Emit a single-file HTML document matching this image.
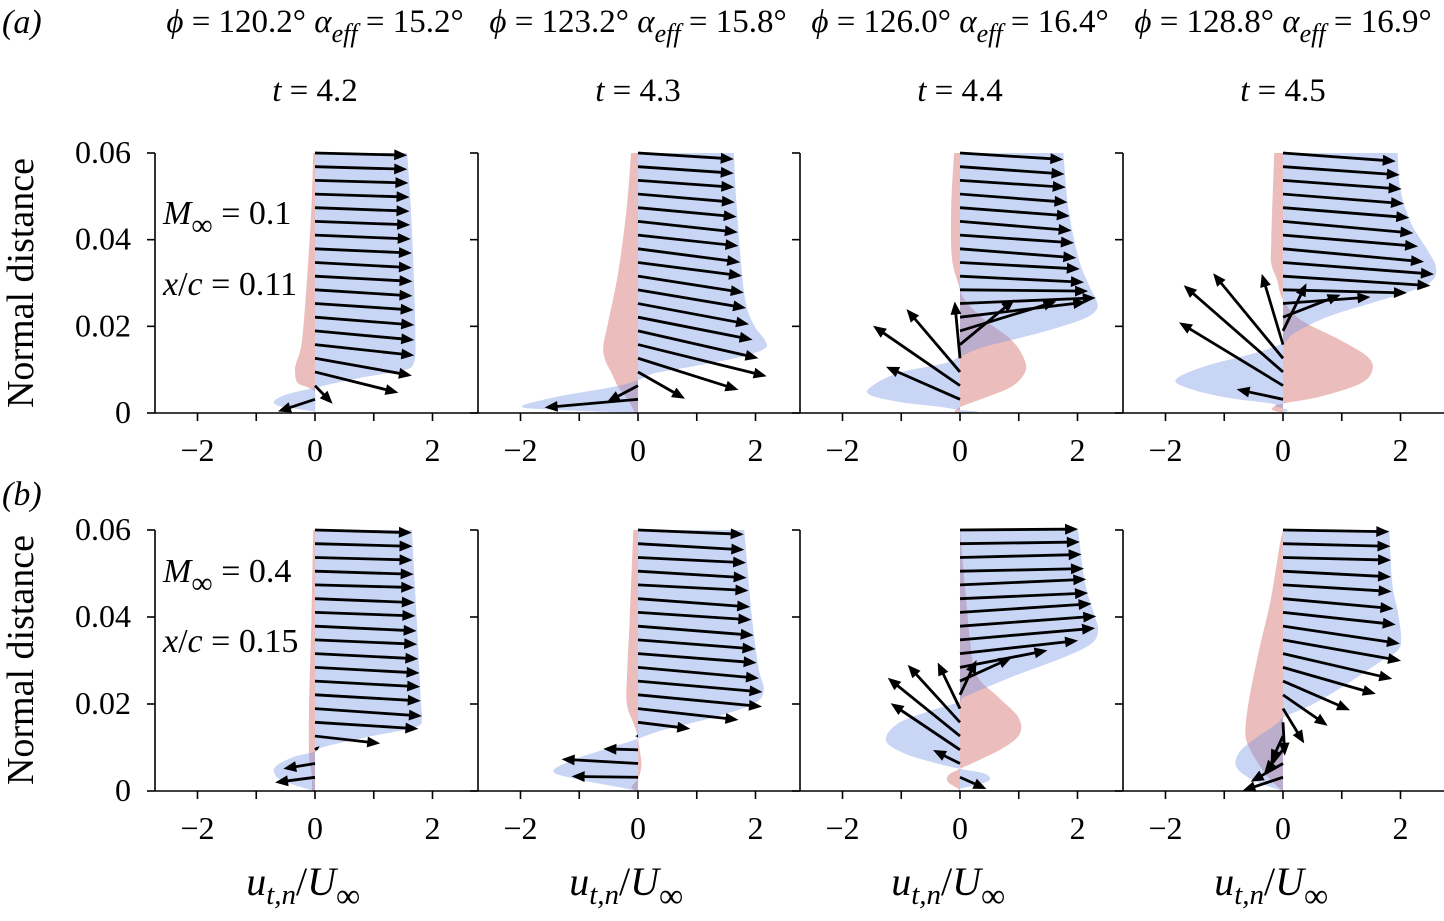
<!DOCTYPE html>
<html><head><meta charset="utf-8"><style>
html,body{margin:0;padding:0;background:#fff;}
svg{display:block;font-family:"Liberation Serif",serif;}
</style></head><body>
<svg id="fig" width="1444" height="921" viewBox="0 0 1444 921" xmlns="http://www.w3.org/2000/svg">
<g id="fills"></g>
<g id="arrows"></g>
<g id="axes"></g>
<g id="texts" font-size="28" fill="#000">
  <text x="2" y="33" font-style="italic" font-size="34">(a)</text>
  <text x="2" y="505" font-style="italic" font-size="34">(b)</text>
  <text x="163" y="224" font-size="34"><tspan font-style="italic">M</tspan><tspan font-size="30" dy="11">∞</tspan><tspan dy="-11"> = 0.1</tspan></text>
  <text x="163" y="295" font-size="34"><tspan font-style="italic">x</tspan>/<tspan font-style="italic">c</tspan> = 0.11</text>
  <text x="163" y="582" font-size="34"><tspan font-style="italic">M</tspan><tspan font-size="30" dy="11">∞</tspan><tspan dy="-11"> = 0.4</tspan></text>
  <text x="163" y="652" font-size="34"><tspan font-style="italic">x</tspan>/<tspan font-style="italic">c</tspan> = 0.15</text>
  <text transform="translate(33,283) rotate(-90)" text-anchor="middle" font-size="38">Normal distance</text>
  <text transform="translate(33,660) rotate(-90)" text-anchor="middle" font-size="38">Normal distance</text>
</g>
</svg>
<script>
const phiLabels = ["120.2", "123.2", "126.0", "128.8"];
const alphaLabels = ["15.2", "15.8", "16.4", "16.9"];
const timeLabels = ["4.2", "4.3", "4.4", "4.5"];
const xTickVals = [-2, -1, 0, 1, 2];
const xTickLabels = ["−2", "", "0", "", "2"];
const yTickVals = [0, 0.02, 0.04, 0.06];
const yTickLabels = ["0", "0.02", "0.04", "0.06"];

// arrow tip horizontal component (u_t / U_inf) per panel, top arrow first
const arrowU = [
 [1.57,1.57,1.59,1.61,1.61,1.62,1.63,1.65,1.65,1.66,1.66,1.68,1.69,1.69,1.69,1.65,1.42,0.30,-0.63],
 [1.63,1.63,1.64,1.65,1.68,1.70,1.71,1.74,1.77,1.80,1.84,1.89,1.95,2.05,2.19,1.71,0.80,-0.53,-1.59],
 [1.76,1.78,1.80,1.83,1.87,1.90,1.94,1.98,2.04,2.11,2.18,2.31,2.15,1.64,0.93,-0.09,-0.91,-1.48,-1.26],
 [1.92,1.99,2.02,2.06,2.15,2.22,2.30,2.40,2.57,2.51,2.11,1.49,0.98,0.40,-0.36,-1.19,-1.69,-1.77,-0.79],
 [1.65,1.66,1.66,1.68,1.69,1.70,1.71,1.73,1.74,1.76,1.78,1.79,1.80,1.82,1.76,1.11,0.08,-0.54,-0.68],
 [1.80,1.81,1.84,1.85,1.88,1.91,1.93,1.97,2.00,2.02,2.06,2.12,2.11,1.71,0.89,-0.05,-0.59,-1.30,-1.13],
 [2.01,2.04,2.07,2.11,2.15,2.18,2.24,2.32,2.30,2.01,1.49,0.88,0.28,-0.38,-0.89,-1.23,-1.18,-0.46,0.45],
 [1.81,1.83,1.84,1.84,1.85,1.88,1.92,1.99,2.01,1.86,1.58,1.14,0.76,0.36,0.03,-0.21,-0.32,-0.55,-0.69]
];
// arrow tip vertical offset (units of 0.001 normal distance)
const arrowV = [
 [-0.5,-0.6,-0.6,-0.7,-0.8,-0.8,-0.9,-1.0,-1.2,-1.2,-1.4,-1.5,-1.8,-2.1,-2.5,-4.0,-4.8,-4.2,-2.8],
 [-1.4,-1.5,-1.6,-1.9,-2.1,-2.5,-2.5,-3.1,-3.1,-3.8,-4.2,-4.8,-5.2,-6.3,-7.3,-7.3,-6.2,-3.8,-1.9],
 [-1.5,-1.7,-1.6,-1.9,-1.9,-2.1,-1.8,-2.1,-1.5,-1.4,-0.3,1.3,3.5,6.8,10.4,13.1,14.5,13.8,7.5],
 [-1.9,-1.9,-2.0,-2.2,-2.3,-2.7,-2.6,-3.0,-2.7,-2.2,-0.7,1.5,5.2,11,16.3,19.6,20,14.6,2.3],
 [-0.6,-0.6,-0.6,-0.7,-0.6,-0.9,-0.8,-1.1,-1.0,-1.2,-1.3,-1.3,-1.4,-1.7,-1.5,-1.7,0.8,-1.2,-1.2],
 [-1.0,-1.4,-1.2,-1.5,-1.3,-1.9,-1.7,-2.1,-2.1,-2.1,-2.5,-2.5,-2.7,-2.6,-1.5,0,0.2,1.0,0.2],
 [0.2,0.4,0.7,0.6,1.3,1.3,2.0,2.3,2.7,3.0,3.9,5.4,8.0,10.6,13.2,13.4,10.7,3.1,-2.7],
 [-0.4,-0.6,-0.6,-1.3,-1.5,-2.3,-2.8,-4.0,-4.8,-5.8,-6.1,-6.7,-7.1,-8.0,-7.7,-6.1,-5.4,-4.2,-3.1]
];
// tangential profile (blue): heights in 0.001 units, velocity
const blueY = [
 [60,47.6,32.2,16.8,11.5,9.9,8.4,6.8,5.8,4.5,3.0,1.8,1.1,0.3,0],
 [60,47.6,32.2,24.5,19.9,16.8,14.9,13,10.7,9.2,7.6,6.1,3.8,1.5,0.7,0],
 [60,47.6,36.1,29.9,26.1,23.8,21.5,18.4,15.3,13,11.5,9.2,6.1,4.2,2.6,1.5,0.7,0.3,0],
 [60,51.5,43.8,37.6,33.8,30.7,28.4,25.3,22.2,18.4,16.1,13.8,10.7,7.6,5.3,3.4,2.2,1.5,0.7,0],
 [60,40,20.8,17,14.7,12.4,10.1,9,7.8,5.5,3.2,1.7,0.5,0],
 [60,40,28.5,23.1,20.1,17,13.9,12,10.1,7,4.4,2.5,0.9,0],
 [60,47.7,40,36.9,33.9,30.8,26.2,21.6,20.5,18.5,15.5,11.6,8.6,6.3,5.1,4,2.5,1.3,0.5,0],
 [60,47.7,41.5,35.4,32.3,29.3,24.7,20.1,17,15.5,12.4,9.3,6.3,4,1.7,0]
];
const blueU = [
 [1.57,1.63,1.68,1.71,1.68,1.51,0.88,0.31,0,-0.43,-0.68,-0.65,-0.37,0,0],
 [1.63,1.68,1.77,1.85,1.99,2.16,2.16,1.77,0.91,0.29,0,-0.39,-1.36,-1.98,-1.36,0],
 [1.76,1.84,2.01,2.18,2.32,2.32,2.07,1.33,0.42,0,-0.26,-1.06,-1.51,-1.54,-1.06,-0.38,0,0.3,0],
 [1.95,2.00,2.18,2.46,2.60,2.55,2.23,1.49,0.76,0.19,0,-0.49,-1.35,-1.83,-1.52,-0.89,-0.2,-0.12,0.08,0],
 [1.65,1.73,1.80,1.82,1.71,0.88,0.14,0,-0.37,-0.68,-0.65,-0.42,-0.14,0],
 [1.81,1.94,2.05,2.14,1.97,1.31,0.40,0,-0.45,-1.13,-1.44,-0.96,-0.33,0],
 [2.01,2.13,2.30,2.35,2.24,1.78,0.88,0.08,0,-0.49,-1.06,-1.26,-0.94,-0.38,0,0.42,0.5,0.25,0,0],
 [1.81,1.86,1.95,2.01,1.95,1.61,1.10,0.53,0.02,-0.1,-0.44,-0.72,-0.81,-0.69,-0.38,0]
];
// normal profile (red)
const redY = [
 [60,47.6,32.2,16.8,11.5,9.9,7,5.8,4.5,0],
 [60,47.6,32.2,20.8,15.4,12.3,9.2,6.1,3,0],
 [60,47.6,36.1,29.9,26.1,21.5,16.8,12.2,9.2,6.1,3.8,1.8,1.1,0.3,0],
 [60,39.9,34.5,30.7,26.1,21.5,16.8,13,9.9,6.8,3.8,2.2,1.5,0.7,0],
 [60,40,20,8,4,0],
 [60,40,28.5,20.1,14.7,12,9.2,6.1,3.1,0.9,0],
 [60,47.7,32.2,26.2,21.6,17,13.2,10.1,7,5.1,3.6,2,0.5,0],
 [60,55.4,43.9,32.2,20.8,13.2,9.3,5.5,2.5,0]
];
const redU = [
 [-0.03,-0.06,-0.13,-0.22,-0.32,-0.34,-0.3,-0.1,0,0],
 [-0.12,-0.19,-0.34,-0.51,-0.59,-0.56,-0.45,-0.34,-0.17,-0.05],
 [-0.10,-0.15,-0.14,-0.03,0.08,0.42,0.88,1.10,1.10,0.88,0.48,0.08,-0.03,-0.09,0],
 [-0.15,-0.2,-0.2,-0.10,0,0.3,0.98,1.44,1.52,1.32,0.64,0,-0.15,-0.18,0],
 [-0.03,-0.06,-0.1,-0.1,-0.06,-0.05],
 [-0.08,-0.14,-0.18,-0.19,-0.05,0,0.03,0.06,0.01,-0.11,0],
 [0,0.08,0.19,0.3,0.65,0.99,1.02,0.76,0.31,0,-0.2,-0.2,-0.03,0],
 [0,-0.07,-0.21,-0.41,-0.58,-0.64,-0.55,-0.38,-0.21,0]
];

const NS = "http://www.w3.org/2000/svg";
const zeroX = [315, 638, 960, 1283];
const spineX = [155, 478, 800, 1123];
const rowBottom = [413, 791];
const rowTop = [153, 530];
const pxPerUnit = 58.75;
function X(col, u) { return zeroX[col] + u * pxPerUnit; }
function Y(row, yv) { return rowBottom[row] - yv / 0.06 * (rowBottom[row] - rowTop[row]); }
function mk(tag, parent, attrs) {
  const e = document.createElementNS(NS, tag);
  for (const k in attrs) e.setAttribute(k, attrs[k]);
  parent.appendChild(e);
  return e;
}
function profilePath(start, pts, end) {
  let d = "M" + start[0].toFixed(1) + "," + start[1].toFixed(1) + " L" + pts[0][0].toFixed(1) + "," + pts[0][1].toFixed(1);
  for (let i = 0; i < pts.length - 1; i++) {
    const p0 = pts[Math.max(0, i - 1)], p1 = pts[i], p2 = pts[i + 1], p3 = pts[Math.min(pts.length - 1, i + 2)];
    let c1 = [p1[0] + (p2[0] - p0[0]) / 6, p1[1] + (p2[1] - p0[1]) / 6];
    let c2 = [p2[0] - (p3[0] - p1[0]) / 6, p2[1] - (p3[1] - p1[1]) / 6];
    // keep control points within segment's vertical range (profile is a function of height)
    const ylo = Math.min(p1[1], p2[1]), yhi = Math.max(p1[1], p2[1]);
    c1[1] = Math.min(yhi, Math.max(ylo, c1[1]));
    c2[1] = Math.min(yhi, Math.max(ylo, c2[1]));
    d += " C" + c1[0].toFixed(1) + "," + c1[1].toFixed(1) + " " + c2[0].toFixed(1) + "," + c2[1].toFixed(1) + " " + p2[0].toFixed(1) + "," + p2[1].toFixed(1);
  }
  d += " L" + end[0].toFixed(1) + "," + end[1].toFixed(1) + " Z";
  return d;
}
const fills = document.getElementById("fills");
const arrows = document.getElementById("arrows");
const axes = document.getElementById("axes");
const texts = document.getElementById("texts");

for (let p = 0; p < 8; p++) {
  const row = p < 4 ? 0 : 1, col = p % 4;
  let pts = [];
  for (let i = 0; i < redY[p].length; i++) pts.push([X(col, redU[p][i]), Y(row, redY[p][i] * 0.001)]);
  let el = mk("path", fills, { d: profilePath([X(col, 0), Y(row, 0.06)], pts, [X(col, 0), Y(row, 0)]), fill: "rgb(205,90,90)", "fill-opacity": "0.4" });
  
  
  pts = [];
  for (let i = 0; i < blueY[p].length; i++) pts.push([X(col, blueU[p][i]), Y(row, blueY[p][i] * 0.001)]);
  el = mk("path", fills, { d: profilePath([X(col, 0), Y(row, 0.06)], pts, [X(col, 0), Y(row, 0)]), fill: "rgb(120,150,230)", "fill-opacity": "0.4" });
  
  
  for (let i = 0; i < arrowU[p].length; i++) {
    const h = 0.06 - i * 0.06 / 19;
    const sx = X(col, 0), sy = Y(row, h);
    const ex = X(col, arrowU[p][i]), ey = Y(row, h + arrowV[p][i] * 0.001);
    const dx = ex - sx, dy = ey - sy, L = Math.hypot(dx, dy);
    if (L < 1) continue;
    const ux = dx / L, uy = dy / L, nx = -uy, ny = ux;
    const hl = Math.min(13, L * 0.7), hw = Math.min(5.5, hl * 0.42), sw = 1.4;
    const bx = ex - ux * hl, by = ey - uy * hl;
    const poly = [
      [sx + nx * sw, sy + ny * sw], [bx + nx * sw, by + ny * sw], [bx + nx * hw, by + ny * hw],
      [ex, ey], [bx - nx * hw, by - ny * hw], [bx - nx * sw, by - ny * sw], [sx - nx * sw, sy - ny * sw]
    ].map(q => q[0].toFixed(1) + "," + q[1].toFixed(1)).join(" ");
    const a = mk("polygon", arrows, { points: poly, fill: "#000" });
    
    
  }
  const sp = mk("line", axes, { x1: spineX[col], y1: Y(row, 0.06), x2: spineX[col], y2: Y(row, 0), stroke: "#000", "stroke-width": 1.6 });
  
  
  for (let k = 0; k < yTickVals.length; k++) {
    const ty = Y(row, yTickVals[k]);
    const t = mk("line", axes, { x1: spineX[col] - 8, y1: ty, x2: spineX[col], y2: ty, stroke: "#000", "stroke-width": 1.6 });
    
    
    if (col === 0) {
      const tl = mk("text", axes, { x: 131, y: ty + 10, "text-anchor": "end", "font-size": 32 });
      tl.textContent = yTickLabels[k];
      
      
    }
  }
  for (let k = 0; k < xTickVals.length; k++) {
    const tx = X(col, xTickVals[k]);
    const t = mk("line", axes, { x1: tx, y1: rowBottom[row], x2: tx, y2: rowBottom[row] + 8, stroke: "#000", "stroke-width": 1.6 });
    
    
    if (xTickLabels[k]) {
      const tl = mk("text", axes, { x: tx, y: rowBottom[row] + 48, "text-anchor": "middle", "font-size": 32 });
      tl.textContent = xTickLabels[k];
      
      
    }
  }
  if (row === 1) {
    const xt = mk("text", texts, { x: X(col, -0.2), y: 895, "text-anchor": "middle", "font-size": 40 });
    xt.innerHTML = '<tspan font-style="italic">u</tspan><tspan font-style="italic" font-size="29" dy="9">t,n</tspan><tspan dy="-9">/</tspan><tspan font-style="italic">U</tspan><tspan font-size="34" dy="12">∞</tspan>';
    
    
  }
}
for (let r = 0; r < 2; r++) {
  const bl = mk("line", axes, { x1: 155, y1: rowBottom[r], x2: 1444, y2: rowBottom[r], stroke: "#000", "stroke-width": 1.6 });
  
  
}
for (let c = 0; c < 4; c++) {
  const tt = mk("text", texts, { x: zeroX[c], y: 32, "text-anchor": "middle", "font-size": 33 });
  tt.innerHTML = '<tspan font-style="italic">ϕ</tspan> = ' + phiLabels[c] + '° <tspan font-style="italic">α</tspan><tspan font-style="italic" font-size="26" dy="10">eff</tspan><tspan dy="-10"> = ' + alphaLabels[c] + '°</tspan>';
  
  
  const ts = mk("text", texts, { x: zeroX[c], y: 101, "text-anchor": "middle", "font-size": 33 });
  ts.innerHTML = '<tspan font-style="italic">t</tspan> = ' + timeLabels[c];
  
  
}
</script>
</body></html>
